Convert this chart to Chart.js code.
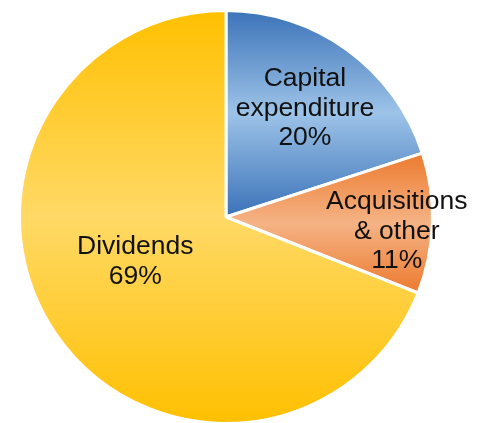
<!DOCTYPE html>
<html>
<head>
<meta charset="utf-8">
<script src="https://cdn.jsdelivr.net/npm/chart.js@4/dist/chart.umd.min.js"></script>
<style>
  html, body { margin: 0; padding: 0; background: #fff; overflow: hidden; }
  #wrap { width: 479px; height: 423px; overflow: hidden; }
</style>
</head>
<body>
<div id="wrap"><canvas id="myPieChart" width="479" height="430"></canvas></div>
<script>
/*chart data*/
const labels = ['Capital expenditure', 'Acquisitions & other', 'Dividends'];
const labelLines = [['Capital', 'expenditure'], ['Acquisitions', '& other'], ['Dividends']];
const values = [20, 11, 69];

/*gradient stops per slice: edge colour, middle colour*/
const edgeColors = ['#3a72b8', '#ec7a2e', '#ffc000'];
const midColors = ['#9dc3e8', '#f5b385', '#ffd966'];

/*label placement: share of radius and angle nudge (degrees)*/
const labelRadius = [0.65, 0.83, 0.49];
const labelNudge = [0, 3, 8];

/*vertical gradient over each slice's own bounding box*/
function sliceGradient(context) {
  const chart = context.chart;
  const area = chart.chartArea;
  if (!area) return edgeColors[context.dataIndex];
  const i = context.dataIndex;
  const cx = (area.left + area.right) / 2;
  const cy = (area.top + area.bottom) / 2;
  const r = Math.min(area.right - area.left, area.bottom - area.top) / 2;
  const total = values.reduce((a, b) => a + b, 0);
  let before = 0;
  for (let k = 0; k < i; k++) before += values[k];
  const a0 = before / total * Math.PI * 2;
  const a1 = (before + values[i]) / total * Math.PI * 2;
  // y of points on the slice (angles measured clockwise from the top)
  const ys = [cy];
  const steps = 60;
  for (let s = 0; s <= steps; s++) {
    const a = a0 + (a1 - a0) * s / steps;
    ys.push(cy - Math.cos(a) * r);
  }
  const top = Math.min.apply(null, ys);
  const bottom = Math.max.apply(null, ys);
  const g = chart.ctx.createLinearGradient(0, top, 0, bottom);
  g.addColorStop(0, edgeColors[i]);
  g.addColorStop(0.5, midColors[i]);
  g.addColorStop(1, edgeColors[i]);
  return g;
}

/*labels drawn inside the slices*/
const sliceLabels = {
  id: 'sliceLabels',
  afterDatasetsDraw(chart) {
    const ctx = chart.ctx;
    const meta = chart.getDatasetMeta(0);
    const total = values.reduce((a, b) => a + b, 0);
    ctx.save();
    ctx.font = '26.5px "Liberation Sans", Arial, sans-serif';
    ctx.fillStyle = '#111';
    ctx.textAlign = 'center';
    ctx.textBaseline = 'middle';
    meta.data.forEach((arc, i) => {
      const mid = (arc.startAngle + arc.endAngle) / 2 + labelNudge[i] * Math.PI / 180;
      const d = arc.outerRadius * labelRadius[i];
      const x = arc.x + Math.cos(mid) * d;
      const y = arc.y + Math.sin(mid) * d;
      const lines = labelLines[i].concat([Math.round(values[i] / total * 100) + '%']);
      const lh = 29.5;
      const y0 = y - (lines.length - 1) * lh / 2;
      lines.forEach((t, j) => ctx.fillText(t, x, y0 + j * lh));
    });
    ctx.restore();
  }
};

const data = {
  labels: labels,
  datasets: [{
    data: values,
    backgroundColor: sliceGradient,
    borderColor: '#ffffff',
    borderWidth: 3,
    hoverOffset: 0,
    offset: 0
  }]
};

const pieConfig = {
  type: 'pie',
  data: data,
  options: {
    responsive: false,
    animation: false,
    layout: { padding: { left: 18, right: 45, top: 9, bottom: 5 } },
    plugins: {
      legend: { display: false },
      tooltip: { enabled: false }
    }
  },
  plugins: [sliceLabels]
};

/*create chart*/
var myPieChart = new Chart(
  document.getElementById('myPieChart'),
  pieConfig
);
</script>
</body>
</html>
